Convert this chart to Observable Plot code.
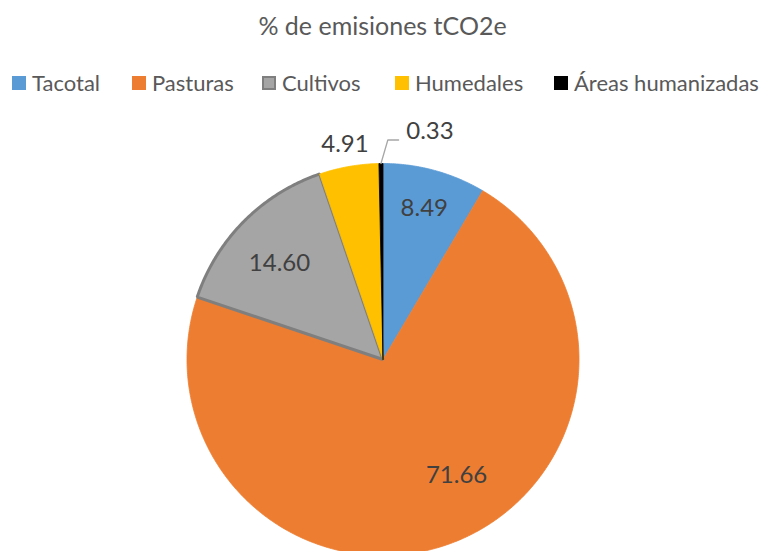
<!DOCTYPE html>
<html>
<head>
<meta charset="utf-8">
<script src="https://cdn.jsdelivr.net/npm/d3@7"></script>
<script src="https://cdn.jsdelivr.net/npm/@observablehq/plot@0.6"></script>
<style>
  html, body { margin: 0; padding: 0; background: #fff; overflow: hidden; }
  body { width: 765px; height: 551px; font-family: Lato, "Open Sans", sans-serif; }
  #header { height: 100px; position: relative; }
  #title { position: absolute; top: 9px; left: 0; width: 765px; text-align: center; font-size: 25px; line-height: 32px; color: #595959; }
  #legend { position: absolute; top: 68px; left: 12px; font-size: 22px; line-height: 30px; color: #595959; white-space: nowrap; }
  .item { display: flex; align-items: center; position: absolute; top: 0; height: 30px; }
  .sw { width: 14px; height: 14px; margin-right: 6px; box-sizing: border-box; }
  #chart svg { display: block; }
</style>
</head>
<body>
<div id="header">
  <div id="title">% de emisiones tCO2e</div>
  <div id="legend"></div>
</div>
<div id="chart"></div>
<script>
// ---- data ----
const categories = ["Tacotal", "Pasturas", "Cultivos", "Humedales", "Áreas humanizadas"];
const values = [8.49, 71.66, 14.60, 4.91, 0.33];
const labels = ["8.49", "71.66", "14.60", "4.91", "0.33"];
const colors = ["#5b9bd5", "#ed7d31", "#a5a5a5", "#ffc000", "#000000"];
const borders = ["#5b9bd5", "#ed7d31", "#7f7f7f", "#ffc000", "#000000"];

// ---- layout ----
const W = 765, H = 551, headerH = 100;
const R = 196, cx = 382.5, cy = 359;          // page coordinates of the pie
const svgH = H - headerH;
const legendX = [0, 120, 250, 383, 542];
// label placement: radius fraction and angular shift (deg)
const labelR = [0.80, 0.70, 0.72, 1.115, 1.2];
const labelShift = [0, -12, -2, 0, 0];

// legend
const leg = document.getElementById("legend");
categories.forEach((c, i) => {
  const it = document.createElement("div");
  it.className = "item";
  it.style.left = legendX[i] + "px";
  const sw = document.createElement("div");
  sw.className = "sw";
  sw.style.background = colors[i];
  if (i === 2) sw.style.border = "2px solid #7f7f7f";
  it.appendChild(sw);
  const t = document.createElement("span");
  t.textContent = c;
  it.appendChild(t);
  leg.appendChild(it);
});

// pie geometry in unit-radius data space (angle clockwise from top)
const arcs = d3.pie().sort(null).value(d => d)(values);
const slices = arcs.map((a, i) => {
  const pts = [{x: 0, y: 0}];
  const n = Math.max(2, Math.ceil((a.endAngle - a.startAngle) / 0.01));
  for (let k = 0; k <= n; k++) {
    const t = a.startAngle + (a.endAngle - a.startAngle) * k / n;
    pts.push({x: Math.sin(t), y: Math.cos(t)});
  }
  pts.push({x: 0, y: 0});
  return pts;
});
const labelData = arcs.map((a, i) => {
  const m = (a.startAngle + a.endAngle) / 2 + labelShift[i] * Math.PI / 180;
  return {x: labelR[i] * Math.sin(m), y: labelR[i] * Math.cos(m), text: labels[i]};
});
// leader line for the smallest slice
const small = arcs[4];
const mid4 = (small.startAngle + small.endAngle) / 2;
const leader = [
  {x: Math.sin(mid4), y: Math.cos(mid4)},
  {x: Math.sin(mid4) + 0.035, y: 1.12},
  {x: Math.sin(mid4) + 0.09, y: 1.12}
];
labelData[4].x = leader[2].x + 0.16;
labelData[4].y = 1.165;

const xDom = [-cx / R, (W - cx) / R];
const yDom = [-(H - cy) / R, (cy - headerH) / R];

const marks = [];
slices.forEach((pts, i) => {
  marks.push(Plot.line(pts, {
    x: "x", y: "y", fill: colors[i], stroke: borders[i],
    strokeWidth: i === 2 ? 3 : 0.8, curve: "linear-closed", strokeLinejoin: "miter"
  }));
});
marks.push(Plot.line(leader, {x: "x", y: "y", stroke: "#a6a6a6", strokeWidth: 1.3}));
marks.push(Plot.text(labelData, {
  x: "x", y: "y", text: "text", fill: "#404040", fontSize: 24,
  fontFamily: "Lato, 'Open Sans', sans-serif"
}));

const chart = Plot.plot({
  width: W, height: svgH,
  margin: 0,
  x: {domain: xDom, axis: null},
  y: {domain: yDom, axis: null},
  marks
});
document.getElementById("chart").appendChild(chart);
</script>
</body>
</html>
